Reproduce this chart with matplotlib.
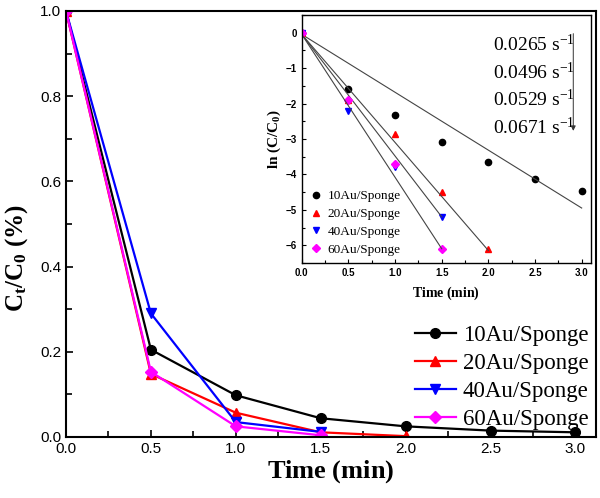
import numpy as np
import matplotlib
matplotlib.use('Agg')
import matplotlib.pyplot as plt
from matplotlib.ticker import MultipleLocator

plt.rcParams['font.family'] = ['Liberation Sans', 'DejaVu Sans']
plt.rcParams['mathtext.fontset'] = 'custom'
plt.rcParams['mathtext.rm'] = 'Liberation Serif'
plt.rcParams['mathtext.it'] = 'Liberation Serif:italic'
plt.rcParams['mathtext.bf'] = 'Liberation Serif:bold'

# main panel: C/C0 vs time
labels = ['10Au/Sponge', '20Au/Sponge', '40Au/Sponge', '60Au/Sponge']
colors = ['black', 'red', 'blue', 'magenta']
markers = ['o', '^', 'v', 'D']
t_10 = [0, 0.5, 1.0, 1.5, 2.0, 2.5, 3.0]
c_10 = [1.0, 0.205, 0.098, 0.044, 0.025, 0.015, 0.011]
t_20 = [0, 0.5, 1.0, 1.5, 2.0]
c_20 = [1.0, 0.148, 0.057, 0.011, 0.002]
t_40 = [0, 0.5, 1.0, 1.5]
c_40 = [1.0, 0.290, 0.035, 0.012]
t_60 = [0, 0.5, 1.0, 1.5]
c_60 = [1.0, 0.153, 0.025, 0.004]

# inset: ln(C/C0) vs time
ln_10 = [0, -1.58, -2.32, -3.10, -3.65, -4.12, -4.48]
ln_20 = [0, -1.90, -2.85, -4.50, -6.12]
ln_40 = [0, -2.20, -3.80, -5.20]
ln_60 = [0, -1.90, -3.70, -6.10]
rate_k = [0.0265, 0.0496, 0.0529, 0.0671]   # s^-1
# linear fit lines
fit_t = [[0, 3.0], [0, 2.0], [0, 1.5], [0, 1.5]]
fit_y = [[-0.05, -4.95], [-0.05, -6.15], [-0.05, -5.2], [-0.05, -6.1]]

times = [t_10, t_20, t_40, t_60]
concs = [c_10, c_20, c_40, c_60]
lns = [ln_10, ln_20, ln_40, ln_60]

fig = plt.figure(figsize=(6.0, 4.98), dpi=100)
ax = fig.add_axes([0.11, 0.1225, 0.883, 0.8555])

for t, c, lab, col, mk in zip(times, concs, labels, colors, markers):
    ms = 6 if mk == 'D' else 7
    ax.plot(t, c, color=col, marker=mk, ms=ms, lw=1.6, label=lab)

ax.set_xlim(0, 3.12)
ax.set_ylim(0, 1.0)
ax.xaxis.set_major_locator(MultipleLocator(0.5))
ax.xaxis.set_minor_locator(MultipleLocator(0.25))
ax.yaxis.set_major_locator(MultipleLocator(0.2))
ax.yaxis.set_minor_locator(MultipleLocator(0.1))
ax.tick_params(which='both', direction='in', labelsize=11, width=1.2)
ax.tick_params(which='major', length=5)
ax.tick_params(which='minor', length=4)
for s in ax.spines.values():
    s.set_linewidth(1.5)
ax.set_xlabel(r'$\mathbf{Time\ (min)}$', fontsize=19, labelpad=2)
ax.set_ylabel(r'$\mathbf{C_t/C_0\ (\%)}$', fontsize=18)
ax.yaxis.set_label_coords(-0.068, 0.42)
ax.legend(loc='lower right', bbox_to_anchor=(1.012, -0.015), frameon=False,
          prop={'family': 'Liberation Serif', 'size': 16.5},
          handlelength=1.8, handletextpad=0.3, labelspacing=0.3,
          borderaxespad=0.2)

# inset
ins = fig.add_axes([0.503, 0.472, 0.482, 0.498])
for t, l, lab, col, mk, ft, fy in zip(times, lns, labels, colors, markers, fit_t, fit_y):
    ms = 4 if mk == 'D' else 4.5
    ins.plot(t, l, ls='none', color=col, marker=mk, ms=ms, label=lab)
    ins.plot(ft, fy, color='#444444', lw=0.8)

ins.set_xlim(0, 3.1)
ins.set_ylim(-6.5, 0.5)
ins.xaxis.set_major_locator(MultipleLocator(0.5))
ins.xaxis.set_minor_locator(MultipleLocator(0.25))
ins.yaxis.set_major_locator(MultipleLocator(1))
ins.yaxis.set_minor_locator(MultipleLocator(0.5))
ins.tick_params(which='both', direction='in', labelsize=7, width=0.8)
ins.tick_params(which='major', length=3)
ins.tick_params(which='minor', length=2)
for lbl in ins.get_xticklabels() + ins.get_yticklabels():
    lbl.set_fontweight('bold')
for s in ins.spines.values():
    s.set_linewidth(1.0)
ins.set_xlabel(r'$\mathbf{Time\ (min)}$', fontsize=10, labelpad=5)
ins.set_ylabel(r'$\mathbf{ln\ (C/C_0)}$', fontsize=11, labelpad=2)
ins.legend(loc='lower left', frameon=False,
           prop={'family': 'Liberation Serif', 'size': 9.5},
           handlelength=1.0, handletextpad=0.4, labelspacing=0.42,
           borderaxespad=0.15)

for i, k in enumerate(rate_k):
    ins.text(2.05, -0.33 - 0.785 * i, r'$\mathrm{%.4f\ s^{-1}}$' % k,
             ha='left', va='center', fontsize=14)
ins.annotate('', xy=(2.91, -2.85), xytext=(2.91, 0.05),
             arrowprops=dict(arrowstyle='-|>', color='#333333', lw=0.7,
                             mutation_scale=7))

fig.savefig('out.png', dpi=100)
